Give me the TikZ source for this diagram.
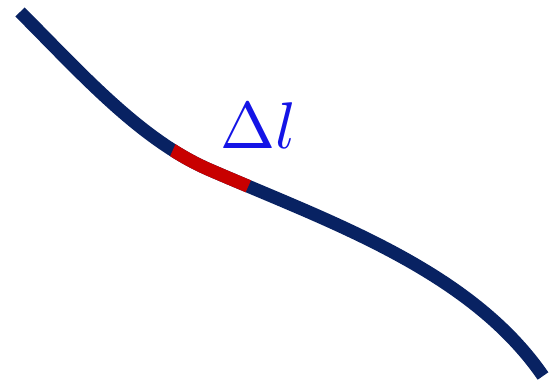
\documentclass[tikz,border=0pt]{standalone}
\begin{document}
\begin{tikzpicture}[x=1pt,y=-1pt,
  wire/.style={line width=13pt,draw=navyc},
  seg/.style={line width=13pt,draw=redc}]
\definecolor{navyc}{RGB}{8,34,98}
\definecolor{redc}{RGB}{200,0,0}
\definecolor{bluec}{RGB}{20,20,230}
\useasboundingbox (0,0) rectangle (551,388);
\coordinate (s) at (20,12);
\coordinate (m) at (210,170);
\coordinate (e) at (543,376);
\draw[wire] (s) .. controls (80,72) and (140,140) .. (m) .. controls (330,222) and (470,270) .. (e);
\begin{scope}
\clip (180,134) -- (256,169) -- (240,205) -- (164,170) -- cycle;
\draw[seg] (s) .. controls (80,72) and (140,140) .. (m) .. controls (330,222) and (470,270) .. (e);
\end{scope}
\node[text=bluec,scale=6.6] (lab) at (258,126) {$\Delta l$};
\end{tikzpicture}
\end{document}
